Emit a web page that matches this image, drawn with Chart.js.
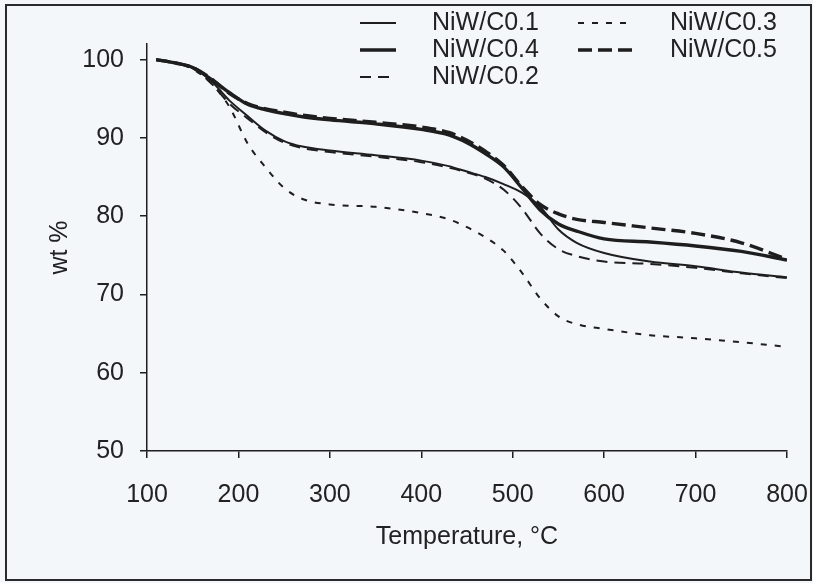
<!DOCTYPE html>
<html>
<head>
<meta charset="utf-8">
<script src="https://cdn.jsdelivr.net/npm/chart.js@4.4.1/dist/chart.umd.min.js"></script>
<style>
  html, body { margin: 0; padding: 0; background: #f4f7fa; }
  #wrap { position: relative; width: 813px; height: 583px; }
  #frame {
    position: absolute; left: 5px; top: 4px; width: 807px; height: 577px;
    border: 2px solid #2a2a2a; box-sizing: border-box; pointer-events: none;
  }
  canvas { position: absolute; left: 0; top: 0; }
</style>
</head>
<body>
<div id="wrap">
  <canvas id="tga" width="813" height="583"></canvas>
  <div id="frame"></div>
</div>
<script>
// TGA weight loss curves, wt % vs temperature
const temps = [110, 130, 150, 170, 190, 210, 230, 250, 270, 300, 350, 400, 430, 450, 470, 490, 510, 530, 550, 570, 600, 650, 700, 750, 800];
const wtC01 = [100, 99.6, 99.0, 97.3, 94.8, 92.8, 90.9, 89.6, 88.9, 88.4, 87.8, 87.1, 86.4, 85.7, 85.0, 84.1, 83.0, 81.2, 78.3, 76.6, 75.3, 74.2, 73.6, 72.8, 72.2];
const wtC04 = [100, 99.6, 99.0, 97.5, 95.8, 94.3, 93.6, 93.1, 92.7, 92.3, 91.8, 91.1, 90.4, 89.4, 88.0, 86.3, 83.6, 80.8, 79.0, 78.1, 77.1, 76.7, 76.2, 75.5, 74.4];
const wtC02 = [100, 99.6, 98.9, 97.0, 94.4, 92.5, 90.7, 89.4, 88.7, 88.2, 87.6, 86.9, 86.2, 85.6, 84.8, 83.4, 81.0, 77.8, 75.8, 74.9, 74.2, 73.9, 73.4, 72.7, 72.1];
const wtC03 = [100, 99.6, 98.8, 97.0, 94.0, 89.3, 86.2, 83.6, 82.2, 81.5, 81.2, 80.4, 79.6, 78.6, 77.3, 75.6, 72.8, 69.5, 67.2, 66.2, 65.6, 64.8, 64.4, 63.9, 63.3];
const wtC05 = [100, 99.6, 99.0, 97.6, 95.7, 94.4, 93.7, 93.3, 92.9, 92.5, 92.0, 91.4, 90.7, 89.7, 88.3, 86.5, 83.8, 81.5, 80.3, 79.6, 79.2, 78.5, 77.8, 76.6, 74.5];
const seriesNames = ['NiW/C0.1', 'NiW/C0.4', 'NiW/C0.2', 'NiW/C0.3', 'NiW/C0.5'];
const xTicks = [100, 200, 300, 400, 500, 600, 700, 800];
const yTicks = [50, 60, 70, 80, 90, 100];

const INK = '#1e1e1e';
const FONT = '"Liberation Sans", Arial, sans-serif';

function pts(ys) {
  return temps.map((t, i) => ({ x: t, y: ys[i] }));
}

function line(label, ys, width, dash) {
  return {
    label: label,
    data: pts(ys),
    borderColor: INK,
    borderWidth: width,
    borderDash: dash,
    pointRadius: 0,
    fill: false,
    cubicInterpolationMode: 'monotone'
  };
}

// legend: two columns, drawn above the plot
const legendPlugin = {
  id: 'tgaLegend',
  afterDraw(chart) {
    const ctx = chart.ctx;
    const slots = [
      [360, 396, 432, 23], [360, 396, 432, 50], [360, 396, 432, 77],
      [578, 634, 670, 23], [578, 634, 670, 50]
    ];
    ctx.save();
    chart.data.datasets.forEach((ds, i) => {
      const [x1, x2, tx, y] = slots[i];
      ctx.strokeStyle = INK;
      ctx.lineWidth = ds.borderWidth;
      ctx.setLineDash(ds.borderDash || []);
      ctx.beginPath();
      ctx.moveTo(x1, y);
      ctx.lineTo(x2, y);
      ctx.stroke();
      ctx.setLineDash([]);
      ctx.fillStyle = '#222';
      ctx.font = '25px ' + FONT;
      ctx.textBaseline = 'middle';
      ctx.fillText(ds.label, tx, y);
    });
    ctx.restore();
  }
};

new Chart(document.getElementById('tga'), {
  type: 'line',
  data: {
    datasets: [
      line(seriesNames[0], wtC01, 2, []),
      line(seriesNames[1], wtC04, 3.4, []),
      line(seriesNames[2], wtC02, 2, [11, 7]),
      line(seriesNames[3], wtC03, 2, [6, 8]),
      line(seriesNames[4], wtC05, 3.4, [14, 6])
    ]
  },
  options: {
    responsive: false,
    animation: false,
    layout: { padding: { left: 6, right: 26, top: 44, bottom: 5 } },
    plugins: { legend: { display: false }, tooltip: { enabled: false } },
    scales: {
      x: {
        type: 'linear',
        min: xTicks[0],
        max: xTicks[xTicks.length - 1],
        afterBuildTicks: (s) => { s.ticks = xTicks.map(v => ({ value: v })); },
        afterFit: (s) => { s.height = 127; s.paddingLeft = 0; s.paddingRight = 0; },
        grid: { drawOnChartArea: false, drawTicks: true, tickLength: 7, color: INK, lineWidth: 1.5 },
        border: { color: INK, width: 1.5 },
        ticks: { color: '#222', font: { family: FONT, size: 25 }, padding: 22, maxRotation: 0 },
        title: {
          display: true, text: 'Temperature, °C', color: '#222',
          font: { family: FONT, size: 25 }, padding: { top: 0, bottom: 26 }
        }
      },
      y: {
        min: 50,
        max: 102,
        afterBuildTicks: (s) => { s.ticks = yTicks.map(v => ({ value: v })); },
        afterFit: (s) => { s.width = 141; },
        grid: { drawOnChartArea: false, drawTicks: true, tickLength: 7, color: INK, lineWidth: 1.5 },
        border: { color: INK, width: 1.5 },
        ticks: { color: '#222', font: { family: FONT, size: 25 }, padding: 16 },
        title: {
          display: true, text: 'wt %', color: '#222',
          font: { family: FONT, size: 25 }, padding: { top: 39, bottom: 0 }
        }
      }
    }
  },
  plugins: [legendPlugin]
});
</script>
</body>
</html>
